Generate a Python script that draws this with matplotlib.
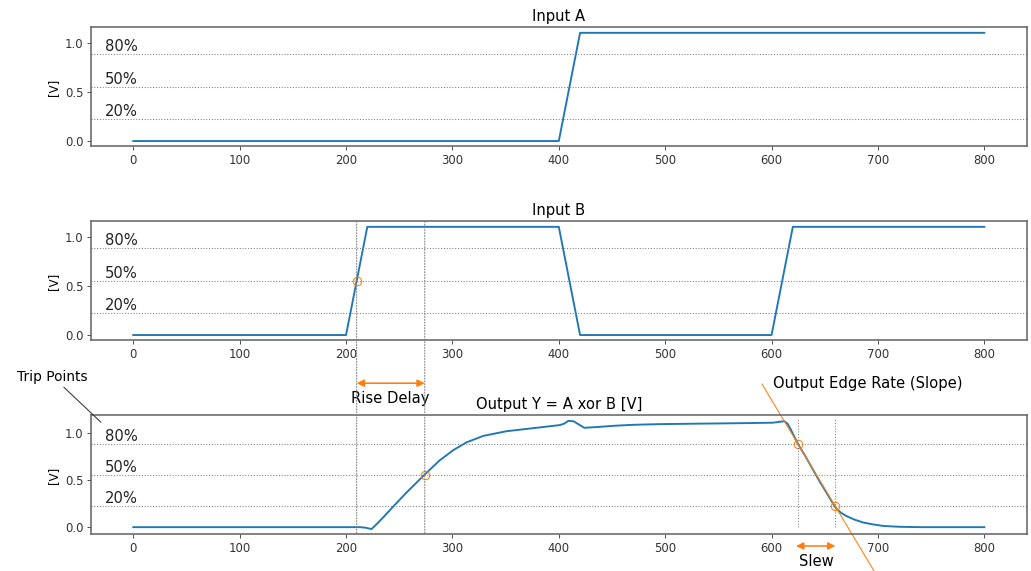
import numpy as np
import matplotlib.pyplot as plt
from matplotlib.patches import ConnectionPatch

# =============================================
# DATA
# =============================================

trip_labels = ['20%', '50%', '80%']
trip_v = [0.22, 0.55, 0.88]

# Input A
t_a = [0, 400, 420, 800]
v_a = [0, 0, 1.1, 1.1]

# Input B
t_b = [0, 200, 220, 400, 420, 600, 620, 800]
v_b = [0, 0, 1.1, 1.1, 0, 0, 1.1, 1.1]

# Output Y = A xor B
t_y = [0, 100, 200, 213, 218, 224, 229, 235, 244, 257, 274, 288, 301, 313,
       329, 351, 382, 401, 405, 409, 414, 419, 424, 437, 451, 470, 495, 530,
       570, 601, 608, 612, 615, 618, 621, 625, 632, 639, 645, 652, 660, 665,
       670, 678, 686, 695, 705, 720, 740, 800]
v_y = [0, 0, 0, 0, -0.005, -0.02, 0.035, 0.105, 0.215, 0.37, 0.56, 0.71, 0.82,
       0.90, 0.97, 1.02, 1.06, 1.085, 1.10, 1.13, 1.125, 1.09, 1.056, 1.065,
       1.077, 1.088, 1.095, 1.10, 1.105, 1.11, 1.12, 1.126, 1.10, 1.04, 0.97,
       0.88, 0.75, 0.61, 0.49, 0.36, 0.21, 0.155, 0.12, 0.08, 0.05, 0.03, 0.013,
       0.004, 0.0, 0.0]

# measured crossing points
b_rise_50 = (210, 0.55)
y_rise_50 = (274, 0.55)
y_fall_80 = (625, 0.88)
y_fall_20 = (660, 0.22)

orange = '#ff7f0e'
blue = '#1f77b4'
grid_kw = dict(color='gray', linestyle=':', linewidth=1)

# =============================================
# FIGURE
# =============================================

DPI = 76
fig, axes = plt.subplots(3, 1, figsize=(1031 / DPI, 571 / DPI), dpi=DPI)
fig.subplots_adjust(left=0.088, right=0.996, top=0.952, bottom=0.064, hspace=0.63)

titles = ['Input A', 'Input B', 'Output Y = A xor B [V]']
series = [(t_a, v_a), (t_b, v_b), (t_y, v_y)]

for ax, title, (t, v) in zip(axes, titles, series):
    ax.plot(t, v, color=blue, linewidth=1.8)
    ax.set_ylim(ax.get_ylim())  # freeze limits before the annotation lines
    ax.set_title(title, fontsize=14)
    ax.set_ylabel('[V]', fontsize=11)
    ax.set_xticks([0, 100, 200, 300, 400, 500, 600, 700, 800])
    ax.set_yticks([0.0, 0.5, 1.0])
    ax.tick_params(labelsize=11, colors='#333333')
    for sp in ax.spines.values():
        sp.set_color('#666666')
        sp.set_linewidth(1.5)
    for lab, thr in zip(trip_labels, trip_v):
        ax.axhline(thr, **grid_kw)
        ax.text(-27, thr, lab, fontsize=14, ha='left', va='bottom', color='#222222')

ax1, ax2, ax3 = axes

# trip point circles
circ_kw = dict(marker='o', markersize=8, markerfacecolor='none',
               markeredgecolor=orange, linestyle='none', markeredgewidth=1.0)
ax2.plot(*b_rise_50, **circ_kw)
ax3.plot([y_rise_50[0], y_fall_80[0], y_fall_20[0]],
         [y_rise_50[1], y_fall_80[1], y_fall_20[1]], **circ_kw)

# rise delay markers spanning input B and output
for x in [b_rise_50[0], y_rise_50[0]]:
    con = ConnectionPatch(xyA=(x, 1), coordsA=ax2.get_xaxis_transform(),
                          xyB=(x, 0), coordsB=ax3.get_xaxis_transform(),
                          **grid_kw)
    fig.add_artist(con)

# slew markers on output
for x in [y_fall_80[0], y_fall_20[0]]:
    ax3.plot([x, x], [0, 1.16], **grid_kw)

# edge rate line through the 80% / 20% points
slope = (y_fall_20[1] - y_fall_80[1]) / (y_fall_20[0] - y_fall_80[0])
tl = np.array([591, 700])
ax3.plot(tl, y_fall_80[1] + slope * (tl - y_fall_80[0]), color=orange,
         linewidth=1.0, clip_on=False)

arrow_kw = dict(arrowstyle='<|-|>', color=orange, linewidth=1.5, mutation_scale=14,
                shrinkA=0, shrinkB=0)
ax3.annotate('', xy=(b_rise_50[0], 1.53), xytext=(y_rise_50[0], 1.53),
             arrowprops=arrow_kw, annotation_clip=False)
ax3.text((b_rise_50[0] + y_rise_50[0]) / 2, 1.37, 'Rise Delay', fontsize=14,
         ha='center', va='center')

ax3.annotate('', xy=(y_fall_80[0] - 2, -0.2), xytext=(y_fall_20[0], -0.2),
             arrowprops=arrow_kw, annotation_clip=False)
ax3.text((y_fall_80[0] + y_fall_20[0]) / 2, -0.36, 'Slew', fontsize=14,
         ha='center', va='center')

ax3.text(601, 1.53, 'Output Edge Rate (Slope)', fontsize=14, ha='left', va='center')

ax3.annotate('Trip Points', xy=(-29, 1.1), xytext=(-109, 1.6), fontsize=13,
             ha='left', va='center', annotation_clip=False,
             arrowprops=dict(arrowstyle='-', color='#333333', linewidth=1))

fig.savefig('out.png', dpi=DPI, facecolor='white')
plt.close(fig)
